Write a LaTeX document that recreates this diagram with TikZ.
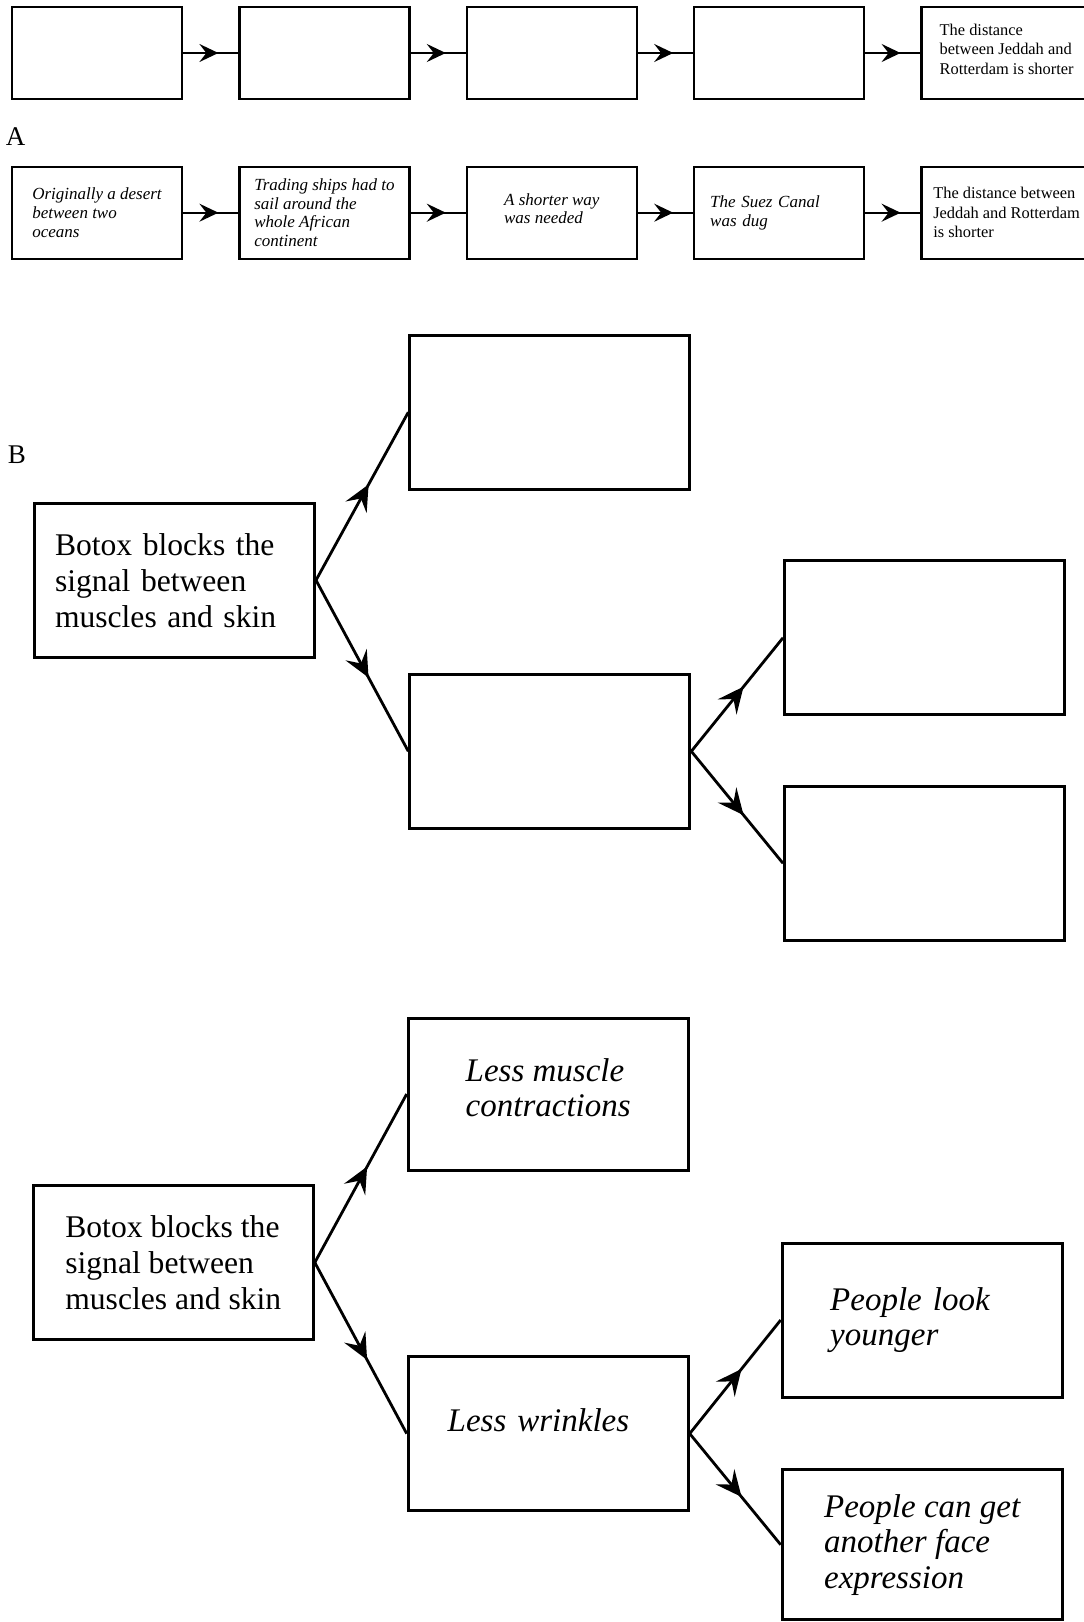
\documentclass[tikz,border=0pt]{standalone}
\usepackage{fontspec}
\setmainfont{Liberation Serif}
\usetikzlibrary{arrows.meta,positioning,decorations.markings}
\tikzset{
  cell/.style={draw, line width=1.2pt, minimum width=85pt, minimum height=46pt, align=left, font=\fontsize{8.2}{9.7}\selectfont},
  icell/.style={cell, font=\fontsize{8.5}{9.3}\selectfont\itshape},
  bigbox/.style={draw, line width=1.5pt, minimum width=140pt, minimum height=77pt, align=left, font=\fontsize{15.8}{18}\selectfont},
  ibigbox/.style={bigbox, font=\fontsize{16.5}{17.8}\selectfont\itshape},
  flow/.style={line width=1pt, postaction={decorate}, decoration={markings, mark=at position 0.64 with {\arrow{Stealth[length=9.5pt,width=9pt,inset=3.5pt]}}}},
  fork/.style={line width=1.4pt, postaction={decorate}, decoration={markings, mark=at position 0.57 with {\arrow{Stealth[length=13pt,width=12pt,inset=5pt]}}}},
  tag/.style={font=\fontsize{13.5}{15}\selectfont}
}
\begin{document}
\begin{tikzpicture}[x=0.5pt, y=-0.5pt]
  \useasboundingbox (0,0) rectangle (1083,1622);
  % A, empty chain
  \node[cell] (e1) at (97,53) {};
  \node[cell, right=27.5pt of e1] (e2) {};
  \node[cell, right=27.5pt of e2] (e3) {};
  \node[cell, right=27.5pt of e3] (e4) {};
  \node[cell, right=27.5pt of e4, text depth=4pt] (e5) {The distance\\between Jeddah and\\Rotterdam is shorter};
  \draw[flow] (e1) -- (e2);
  \draw[flow] (e2) -- (e3);
  \draw[flow] (e3) -- (e4);
  \draw[flow] (e4) -- (e5);
  \node[tag] (labA) at (15.5,136.5) {A};
  % A, filled chain
  \node[icell] (f1) at (97,212.7) {Originally a desert\\between two\\oceans};
  \node[icell, right=27.5pt of f1] (f2) {Trading ships had to\\sail around the\\whole African\\continent};
  \node[icell, right=27.5pt of f2, text depth=4pt] (f3) {A shorter way\\was needed};
  \node[icell, right=27.5pt of f3, text width=69pt] (f4) {The Suez Canal\\was dug};
  \node[cell, right=27.5pt of f4] (f5) {The distance between\\Jeddah and Rotterdam\\is shorter};
  \draw[flow] (f1) -- (f2);
  \draw[flow] (f2) -- (f3);
  \draw[flow] (f3) -- (f4);
  \draw[flow] (f4) -- (f5);
  % B, empty tree
  \node[tag] (labB) at (17,454.5) {B};
  \node[bigbox, text width=119.5pt] (cause) at (174.5,580.2) {Botox blocks the\\signal between\\muscles and skin};
  \node[bigbox] (up) at (549.8,412.2) {};
  \node[bigbox] (mid) at (549.8,751.3) {};
  \node[bigbox] (ru) at (924.5,637.8) {};
  \node[bigbox] (rl) at (924.5,863.3) {};
  \draw[fork] (cause.east) -- (up.west);
  \draw[fork] (cause.east) -- (mid.west);
  \draw[fork] (mid.east) -- (ru.west);
  \draw[fork] (mid.east) -- (rl.west);
  % B, filled tree
  \node[bigbox] (cause2) at (173.3,1262.5) {Botox blocks the\\signal between\\muscles and skin};
  \node[ibigbox, minimum height=76pt, text depth=6.5pt] (lessmus) at (548.2,1094) {Less muscle\\contractions};
  \node[ibigbox, text width=100.5pt, text depth=14pt] (lesswr) at (548.2,1433.6) {Less wrinkles};
  \node[ibigbox, text width=92pt] (younger) at (922.2,1320) {People look\\younger};
  \node[ibigbox, minimum height=75pt] (express) at (922.2,1544.7) {People can get\\another face\\expression};
  \draw[fork] (cause2.east) -- (lessmus.west);
  \draw[fork] (cause2.east) -- (lesswr.west);
  \draw[fork] (lesswr.east) -- (younger.west);
  \draw[fork] (lesswr.east) -- (express.west);
\end{tikzpicture}
\end{document}
